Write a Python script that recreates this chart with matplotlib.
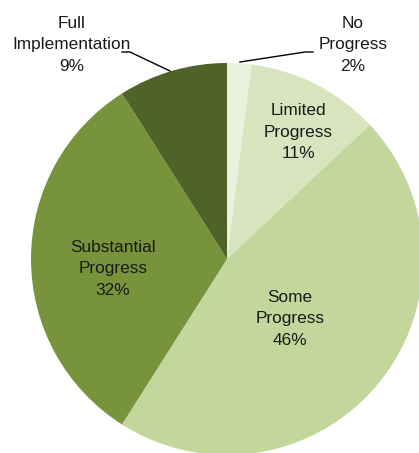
import matplotlib
matplotlib.use("Agg")
import matplotlib.pyplot as plt

categories = ["No\nProgress", "Limited\nProgress", "Some\nProgress", "Substantial\nProgress", "Full\nImplementation"]
values = [2, 11, 46, 32, 9]
colors = ["#EBF1DE", "#D7E4BD", "#C3D69B", "#77933C", "#4F6228"]

W, H = 419, 453
fig = plt.figure(figsize=(W / 100, H / 100), dpi=100)
ax = fig.add_axes([0, 0, 1, 1])
plt.rcParams['font.family'] = ['Liberation Sans', 'DejaVu Sans']

cx, cy, R = 227, H - 259, 196
wedges, _ = ax.pie(values, colors=colors, startangle=90, counterclock=False,
                   center=(cx, cy), radius=R, wedgeprops=dict(linewidth=0))
ax.set_xlim(0, W)
ax.set_ylim(0, H)
ax.set_aspect('auto')
ax.axis('off')

fs = 12.4
labels = [f"{c}\n{v}%" for c, v in zip(categories, values)]
# label positions in pixel coordinates (x, y from top)
pos = {0: (353, 45), 1: (298, 132), 2: (290, 319), 3: (113, 269), 4: (72, 45)}
for i, lab in enumerate(labels):
    x, y = pos[i]
    ax.text(x, H - y, lab, ha='center', va='center', fontsize=fs,
            linespacing=1.55, color='#1a1a1a')

# leader lines
ax.plot([122, 130, 170], [H - 52, H - 52, H - 71], color='black', lw=1)
ax.plot([240, 305, 313], [H - 62, H - 52, H - 52], color='black', lw=1)

fig.savefig("out.png", dpi=100)
